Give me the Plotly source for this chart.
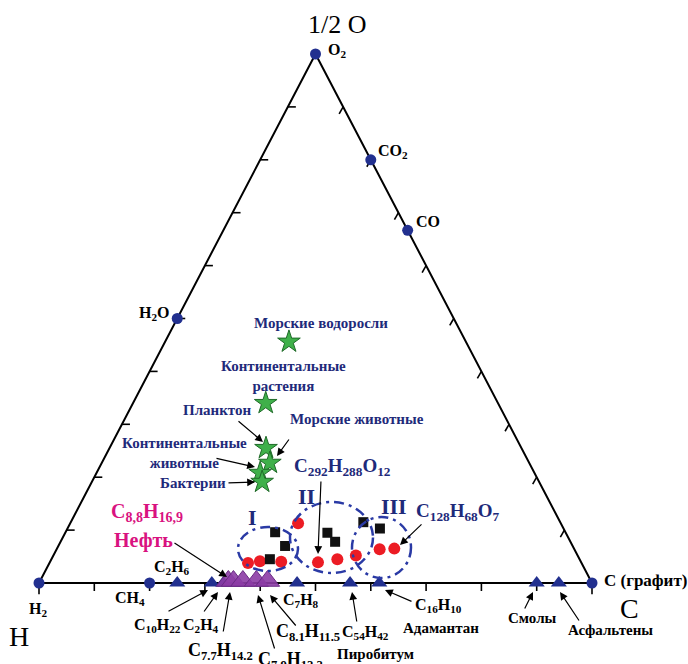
import plotly.graph_objects as go

# ---------------- data ----------------
# atom-based points (C, H, O atoms); O is weighted x2 on the "1/2 O" axis
dot_names = ["O2", "CO2", "CO", "H2O", "H2", "CH4", "C"]
dot_C = [0, 1, 1, 0, 0, 1, 1]
dot_H = [0, 0, 0, 2, 2, 4, 0]
dot_O = [2, 2, 1, 1, 0, 0, 0]

tri_names = ["C2H6", "C10H22", "C2H4", "C7H8", "C54H42", "C16H10", "Смолы", "Асфальтены"]
tri_C = [2, 10, 2, 7, 54, 16, 90, 94]
tri_H = [6, 22, 4, 8, 42, 10, 10, 6]

oil_names = ["C8.8H16.9", "C7.7H14.2", "C8.0H13.7", "C7.9H12.2", "C8.1H11.5"]
oil_C = [8.8, 7.7, 8.0, 7.9, 8.1]
oil_H = [16.9, 14.2, 13.7, 12.2, 11.5]

# fractions (C, H, 2O)
star_names = ["Морские водоросли", "Континентальные растения", "Планктон",
              "Морские животные", "Континентальные животные", "Бактерии"]
star_C = [0.224, 0.240, 0.283, 0.304, 0.296, 0.308]
star_H = [0.320, 0.420, 0.462, 0.469, 0.496, 0.501]
star_O = [0.456, 0.340, 0.255, 0.227, 0.208, 0.191]

circ_C = [0.359, 0.379, 0.418, 0.412, 0.485, 0.517, 0.547, 0.584, 0.610]
circ_H = [0.603, 0.580, 0.542, 0.475, 0.476, 0.438, 0.401, 0.352, 0.325]
circ_O = [0.038, 0.041, 0.040, 0.113, 0.039, 0.045, 0.052, 0.064, 0.065]

sq_C = [0.379, 0.410, 0.395, 0.474, 0.497, 0.529, 0.565]
sq_H = [0.525, 0.520, 0.560, 0.431, 0.426, 0.356, 0.332]
sq_O = [0.096, 0.070, 0.045, 0.095, 0.078, 0.115, 0.103]

tick_vals = [0.1, 0.2, 0.3, 0.4, 0.5, 0.6, 0.7, 0.8, 0.9]

# ---------------- geometry ----------------
W, HGT = 688, 664
X0, Y0, SX, SY = 39, 583, 553, 529


def tern(c, h, o):
    s = c + h + o
    c, o = c / s, o / s
    return c + o / 2, o


def tern_list(C, Hh, O):
    xs, ys = [], []
    for c, h, o in zip(C, Hh, O):
        x, y = tern(c, h, o)
        xs.append(x)
        ys.append(y)
    return xs, ys


def P(px, py):
    return px / W, 1 - py / HGT


NAVY = "#1e2a7a"
DOT = "#22308f"
SERIF = "Liberation Serif, Times New Roman, serif"

fig = go.Figure()

# triangle frame
fig.add_trace(go.Scatter(x=[0, 1, 0.5, 0], y=[0, 0, 1, 0], mode="lines",
                         line=dict(color="black", width=2), hoverinfo="skip"))

# ticks
tx, ty = [], []
dxp, dyp = 8 / SX, 8 / SY
for t in tick_vals:
    # bottom edge (C axis)
    tx += [t, t, None]
    ty += [0, -dyp, None]
    # left edge
    x, y = t / 2, t
    tx += [x, x + dxp, None]
    ty += [y, y, None]
    # right edge
    x, y = 1 - t / 2, t
    tx += [x, x - dxp * 0.5, None]
    ty += [y, y - dyp * 0.87, None]
for t in [0, 1]:
    tx += [t, t, None]
    ty += [0, -dyp * 1.4, None]
fig.add_trace(go.Scatter(x=tx, y=ty, mode="lines", line=dict(color="black", width=1.6),
                         hoverinfo="skip"))

# navy dots
x, y = tern_list(dot_C, dot_H, [2 * o for o in dot_O])
fig.add_trace(go.Scatter(x=x, y=y, mode="markers", text=dot_names,
                         marker=dict(symbol="circle", size=11, color=DOT)))

# navy triangles
x, y = tern_list(tri_C, tri_H, [0] * len(tri_C))
fig.add_trace(go.Scatter(x=x, y=y, mode="markers", text=tri_names,
                         marker=dict(symbol="triangle-up", size=14, color=DOT)))

# oil purple triangles
x, y = tern_list(oil_C, oil_H, [0] * len(oil_C))
fig.add_trace(go.Scatter(x=x, y=[v + 2 / SY for v in y], mode="markers", text=oil_names,
                         marker=dict(symbol="triangle-up", size=21, color="rgba(140,60,165,0.9)",
                                     line=dict(color="#6b2b85", width=1))))

# stars
x, y = tern_list(star_C, star_H, star_O)
fig.add_trace(go.Scatter(x=x, y=y, mode="markers", text=star_names,
                         marker=dict(symbol="star", size=17, color="#3fb04a",
                                     line=dict(color="#1f6a28", width=1))))

# red circles
x, y = tern_list(circ_C, circ_H, circ_O)
fig.add_trace(go.Scatter(x=x, y=y, mode="markers",
                         marker=dict(symbol="circle", size=12, color="#ec1c24")))

# black squares
x, y = tern_list(sq_C, sq_H, sq_O)
fig.add_trace(go.Scatter(x=x, y=y, mode="markers",
                         marker=dict(symbol="square", size=10, color="#111111")))

# ellipses (groups I, II, III)
shapes = []
for (a, b, c, d) in [(238, 527, 298, 571), (290, 502, 373, 573), (352, 517, 411, 578)]:
    xa, ya = P(a, d)
    xb, yb = P(c, b)
    shapes.append(dict(type="circle", xref="paper", yref="paper", x0=xa, y0=ya, x1=xb, y1=yb,
                       line=dict(color="#2a3aa5", width=2.5, dash="10px,5px,3px,5px")))

ann = []


def txt(px, py, text, size=15, color="black", bold=True):
    x, y = P(px, py)
    t = "<b>" + text + "</b>" if bold else text
    ann.append(dict(x=x, y=y, xref="paper", yref="paper", text=t, showarrow=False,
                    font=dict(family=SERIF, size=size, color=color),
                    xanchor="center", yanchor="middle", align="center"))


def arr(tx_, ty_, hx, hy):
    x, y = P(hx, hy)
    ann.append(dict(x=x, y=y, xref="paper", yref="paper", text="", showarrow=True,
                    ax=tx_ - hx, ay=ty_ - hy, arrowhead=2, arrowsize=1.3, arrowwidth=1.2,
                    arrowcolor="black"))


# vertices and edge compounds
txt(337, 24, "1/2 O", 26, bold=False)
txt(337, 50, "O<sub>2</sub>", 16)
txt(393, 152, "CO<sub>2</sub>", 16)
txt(428, 222, "CO", 16)
txt(154, 313, "H<sub>2</sub>O", 16)
txt(38, 609, "H<sub>2</sub>", 16)
txt(19, 636, "H", 28, bold=False)
txt(645, 580, "C (графит)", 17)
txt(629, 608, "C", 28, bold=False)
txt(130, 598, "CH<sub>4</sub>", 16)
txt(172, 567, "C<sub>2</sub>H<sub>6</sub>", 16)
txt(157, 625, "C<sub>10</sub>H<sub>22</sub>", 16)
txt(201, 625, "C<sub>2</sub>H<sub>4</sub>", 16)
txt(220, 651, "C<sub>7.7</sub>H<sub>14.2</sub>", 18)
txt(290, 660, "C<sub>7.9</sub>H<sub>12.2</sub>", 18)
txt(308, 632, "C<sub>8.1</sub>H<sub>11.5</sub>", 18)
txt(301, 600, "C<sub>7</sub>H<sub>8</sub>", 16)
txt(366, 632, "C<sub>54</sub>H<sub>42</sub>", 16)
txt(375, 654, "Пиробитум", 15)
txt(438, 605, "C<sub>16</sub>H<sub>10</sub>", 16)
txt(441, 628, "Адамантан", 15)
txt(532, 618, "Смолы", 15)
txt(610, 630, "Асфальтены", 15)

PINK = "#d9127f"
txt(147, 512, "C<sub>8,8</sub>H<sub>16,9</sub>", 20, PINK)
txt(143, 540, "Нефть", 20, PINK)

txt(321, 323, "Морские водоросли", 15, NAVY)
txt(283, 376, "Континентальные<br>растения", 15, NAVY)
txt(217, 410, "Планктон", 15, NAVY)
txt(357, 419, "Морские животные", 15, NAVY)
txt(185, 453, "Континентальные<br>животные", 15, NAVY)
txt(193, 483, "Бактерии", 15, NAVY)
txt(342, 467, "C<sub>292</sub>H<sub>288</sub>O<sub>12</sub>", 19, NAVY)
txt(458, 512, "C<sub>128</sub>H<sub>68</sub>O<sub>7</sub>", 19, NAVY)
txt(252, 517, "I", 22, NAVY)
txt(306, 496, "II", 22, NAVY)
txt(394, 506, "III", 22, NAVY)

arr(173, 542, 227, 577)
arr(167, 612, 208, 590)
arr(203, 613, 218, 592)
arr(223, 633, 230, 592)
arr(275, 650, 258, 595)
arr(297, 627, 270, 595)
arr(357, 623, 352, 592)
arr(413, 602, 385, 590)
arr(524, 610, 533, 592)
arr(580, 622, 560, 592)
arr(237, 420, 263, 442)
arr(290, 438, 277, 456)
arr(215, 458, 255, 467)
arr(227, 483, 255, 482)
arr(321, 480, 318, 554)
arr(423, 523, 400, 545)

fig.update_layout(
    width=W, height=HGT, margin=dict(l=0, r=0, t=0, b=0, pad=0),
    paper_bgcolor="white", plot_bgcolor="white", showlegend=False,
    xaxis=dict(range=[-X0 / SX, (W - X0) / SX], visible=False, fixedrange=True),
    yaxis=dict(range=[-(HGT - Y0) / SY, Y0 / SY], visible=False, fixedrange=True),
    shapes=shapes, annotations=ann,
)

fig.write_html("out.html")
